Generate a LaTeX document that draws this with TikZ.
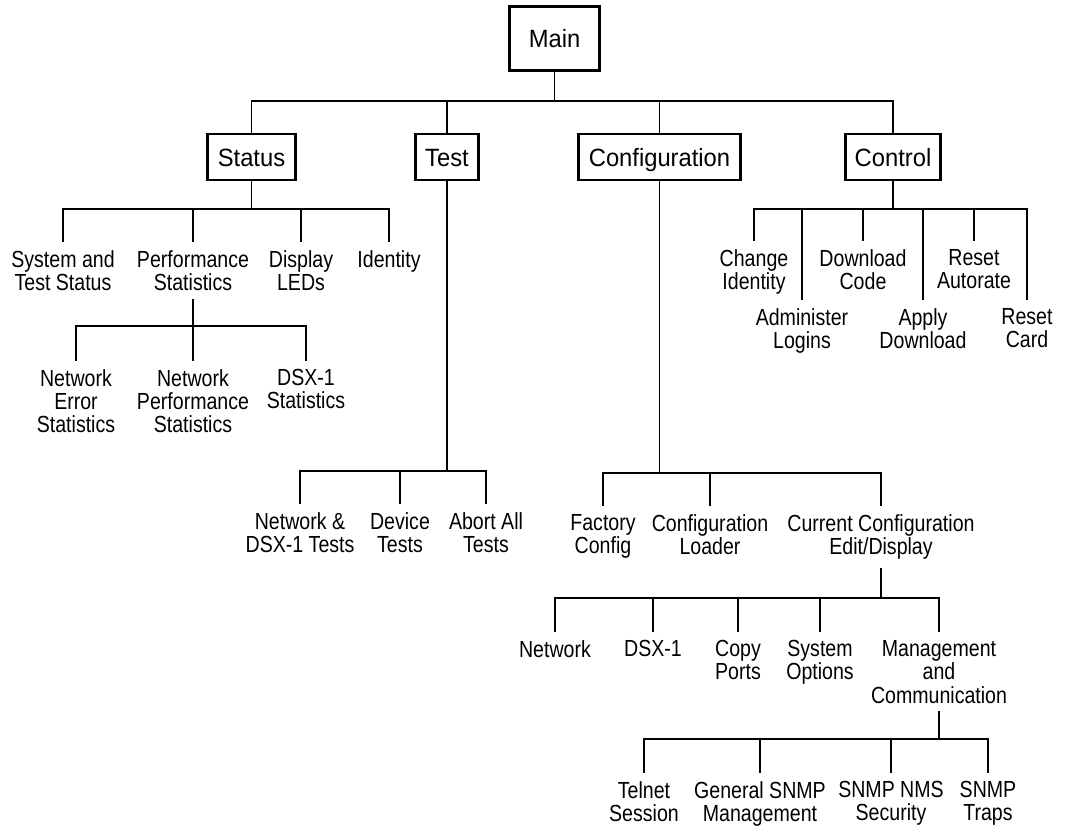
\documentclass[tikz,border=0pt]{standalone}
\usepackage{fontspec}
\setmainfont{Liberation Sans}
\newfontfamily\leaffont{Liberation Sans}[FakeStretch=0.84]
\newfontfamily\boxfont{Liberation Sans}[FakeStretch=0.95]
\begin{document}
\begin{tikzpicture}[x=1pt,y=-1pt,
  menubox/.style={draw, line width=2.2pt, font=\boxfont\fontsize{25}{27}\selectfont,
    minimum height=46pt, inner sep=0pt, text height=18pt, text depth=0pt},
  leaf/.style={align=center, inner xsep=0pt, inner ysep=8pt,
    font=\leaffont\fontsize{23.3}{23.4}\selectfont, anchor=north},
  link/.style={line width=1.2pt}]
\useasboundingbox (0,0) rectangle (1066,833);

% top level
\node[menubox, minimum width=90pt, minimum height=64pt] (main) at (554.5,38.5) {Main};
\node[menubox, minimum width=88pt] (status) at (251.5,157) {Status};
\node[menubox, minimum width=63pt] (test) at (447,157) {Test};
\node[menubox, minimum width=162pt] (config) at (659.5,157) {Configuration};
\node[menubox, minimum width=95pt] (control) at (893,157) {Control};

\coordinate (mainbar) at (main.south |- 0,101);
\draw[link] (main.south) -- (mainbar);
\foreach \c in {status,test,config,control} \draw[link] (mainbar) -| (\c.north);

% status
\node[leaf] (systest) at (63,242) {System and\\Test Status};
\node[leaf] (perf) at (193,242) {Performance\\Statistics};
\node[leaf] (display) at (301,242) {Display\\LEDs};
\node[leaf] (identity) at (389,242) {Identity};
\coordinate (statusbar) at (status.south |- 0,209);
\draw[link] (status.south) -- (statusbar);
\foreach \c in {systest,perf,display,identity} \draw[link] (statusbar) -| (\c.north);

% performance statistics
\node[leaf] (neterr) at (76,361) {Network\\Error\\Statistics};
\node[leaf] (netperf) at (193,361) {Network\\Performance\\Statistics};
\node[leaf] (dsxstat) at (306,361) {DSX-1\\Statistics};
\coordinate (perfbar) at (perf.south |- 0,326);
\draw[link] (perf.south) -- (perfbar);
\foreach \c in {neterr,netperf,dsxstat} \draw[link] (perfbar) -| (\c.north);

% test
\node[leaf] (netdsx) at (300,504) {Network \&\\DSX-1 Tests};
\node[leaf] (device) at (400,504) {Device\\Tests};
\node[leaf] (abort) at (486,504) {Abort All\\Tests};
\coordinate (testbar) at (test.south |- 0,471);
\draw[link] (test.south) -- (testbar);
\foreach \c in {netdsx,device,abort} \draw[link] (testbar) -| (\c.north);

% configuration
\node[leaf] (factory) at (603,506) {Factory\\Config};
\node[leaf] (loader) at (710,506) {Configuration\\Loader};
\node[leaf] (curcfg) at (881,506) {Current Configuration\\Edit/Display};
\coordinate (configbar) at (config.south |- 0,473);
\draw[link] (config.south) -- (configbar);
\foreach \c in {factory,loader,curcfg} \draw[link] (configbar) -| (\c.north);

% current configuration
\node[leaf] (network) at (555,632) {Network};
\node[leaf] (dsx) at (653,632) {DSX-1};
\node[leaf] (copyports) at (738,632) {Copy\\Ports};
\node[leaf] (sysopt) at (820,632) {System\\Options};
\node[leaf] (mgmt) at (939,632) {Management\\and\\Communication};
\coordinate (curbar) at (curcfg.south |- 0,598);
\draw[link] (curcfg.south) -- (curbar);
\foreach \c in {network,dsx,copyports,sysopt,mgmt} \draw[link] (curbar) -| (\c.north);

% management and communication
\node[leaf] (telnet) at (644,773) {Telnet\\Session};
\node[leaf] (gensnmp) at (760,773) {General SNMP\\Management};
\node[leaf] (nms) at (891,773) {SNMP NMS\\Security};
\node[leaf] (traps) at (988,773) {SNMP\\Traps};
\coordinate (mgmtbar) at (mgmt.south |- 0,739);
\draw[link] (mgmt.south) -- (mgmtbar);
\foreach \c in {telnet,gensnmp,nms,traps} \draw[link] (mgmtbar) -| (\c.north);

% control
\node[leaf] (chgid) at (754,241) {Change\\Identity};
\node[leaf] (admlog) at (802,300) {Administer\\Logins};
\node[leaf] (dlcode) at (863,241) {Download\\Code};
\node[leaf] (applydl) at (923,300) {Apply\\Download};
\node[leaf] (rauto) at (974,241) {Reset\\Autorate};
\node[leaf] (rcard) at (1027,300) {Reset\\Card};
\coordinate (ctrlbar) at (control.south |- 0,209);
\draw[link] (control.south) -- (ctrlbar);
\foreach \c in {chgid,admlog,dlcode,applydl,rauto,rcard} \draw[link] (ctrlbar) -| (\c.north);
\end{tikzpicture}
\end{document}
